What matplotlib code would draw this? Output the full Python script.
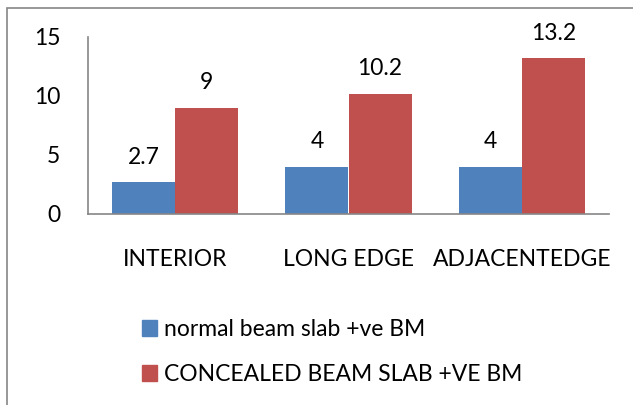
import matplotlib
matplotlib.use("Agg")
from matplotlib import pyplot as plt
from matplotlib.patches import Rectangle, Patch
import numpy as np

categories = ["INTERIOR", "LONG EDGE", "ADJACENTEDGE"]
normal_bm = [2.7, 4, 4]
concealed_bm = [9, 10.2, 13.2]
series_names = ["normal beam slab +ve BM", "CONCEALED BEAM SLAB +VE BM"]
yticks = [0, 5, 10, 15]

blue = "#4F81BD"
red = "#C0504D"
grey = "#868686"

plt.rcParams["font.family"] = ["Lato", "DejaVu Sans"]
fs = 16.5

fig = plt.figure(figsize=(6.33, 4.05), dpi=100)
ax = fig.add_axes([88 / 633, 1 - 214 / 405, 521 / 633, 177 / 405])

x = np.arange(len(categories))
w = 0.363
ax.bar(x - w / 2, normal_bm, w, color=blue, linewidth=0)
ax.bar(x + w / 2, concealed_bm, w, color=red, linewidth=0)

for xi, v in zip(x - w / 2, normal_bm):
    ax.annotate(f"{v:g}", (xi, v), xytext=(0, 18), textcoords="offset points",
                ha="center", va="center", fontsize=fs)
for xi, v in zip(x + w / 2, concealed_bm):
    ax.annotate(f"{v:g}", (xi, v), xytext=(0, 18), textcoords="offset points",
                ha="center", va="center", fontsize=fs)

ax.set_xlim(-0.5, len(categories) - 0.5)
ax.set_ylim(0, 15)
ax.set_yticks(yticks)
ax.set_xticks(x)
ax.set_xticklabels(categories)
ax.tick_params(axis="both", length=0, labelsize=fs)
ax.tick_params(axis="y", pad=20)
ax.tick_params(axis="x", pad=25)
for s in ["top", "right"]:
    ax.spines[s].set_visible(False)
for s in ["left", "bottom"]:
    ax.spines[s].set_color(grey)
    ax.spines[s].set_linewidth(1.2)

handles = [Patch(color=blue), Patch(color=red)]
fig.legend(handles, series_names, loc="upper left",
           bbox_to_anchor=(133 / 633, 1 - 310 / 405), frameon=False,
           fontsize=fs, handlelength=0.66, handleheight=0.66,
           handletextpad=0.3, labelspacing=1.05, borderaxespad=0)

# outer chart frame (right and bottom edges fall outside the picture)
fig.patches.append(Rectangle((7 / 633, -0.1), 1.2, 1 - 8 / 405 + 0.1,
                             transform=fig.transFigure, fill=False,
                             edgecolor=grey, linewidth=1.2))

plt.savefig("out.png", dpi=100)
